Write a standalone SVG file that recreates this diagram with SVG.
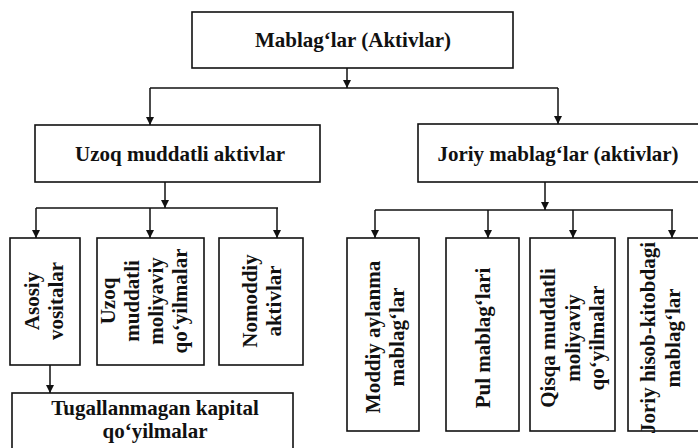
<svg xmlns="http://www.w3.org/2000/svg" width="698" height="448" viewBox="0 0 698 448">
<defs>
<style>
.box{fill:#fff;stroke:#111;stroke-width:1.6}
.t{font-family:"Liberation Serif","Times New Roman",serif;font-weight:bold;font-size:21px;fill:#111}
.c{stroke:#111;stroke-width:1.5;fill:none}
</style>
<marker id="ah" markerWidth="8" markerHeight="8" refX="8" refY="4" orient="auto" markerUnits="userSpaceOnUse"><path d="M0,0 L8,4 L0,8 z" fill="#111"/></marker>
</defs>
<rect width="698" height="448" fill="#fff"/>
<g id="connectors">
<path class="c" d="M347,68 V88" marker-end="url(#ah)"/>
<path class="c" d="M150,88 H558"/>
<path class="c" d="M150,88 V125" marker-end="url(#ah)"/>
<path class="c" d="M558,88 V124" marker-end="url(#ah)"/>
<path class="c" d="M165,182 V208" marker-end="url(#ah)"/>
<path class="c" d="M36,208 H278"/>
<path class="c" d="M36,208 V238" marker-end="url(#ah)"/>
<path class="c" d="M150,208 V238" marker-end="url(#ah)"/>
<path class="c" d="M277,208 V238" marker-end="url(#ah)"/>
<path class="c" d="M545,182 V210" marker-end="url(#ah)"/>
<path class="c" d="M375,210 H673"/>
<path class="c" d="M375,210 V238" marker-end="url(#ah)"/>
<path class="c" d="M488,210 V238" marker-end="url(#ah)"/>
<path class="c" d="M573,210 V238" marker-end="url(#ah)"/>
<path class="c" d="M672,210 V238" marker-end="url(#ah)"/>
<path class="c" d="M50,365 V393" marker-end="url(#ah)"/>
</g>
<g id="mablaglar">
<rect class="box" x="192" y="12" width="321" height="56"/>
<text class="t" x="353" y="47" text-anchor="middle">Mablag‘lar (Aktivlar)</text>
</g>
<g id="uzoq">
<rect class="box" x="35" y="125" width="285" height="57"/>
<text class="t" x="180" y="161" text-anchor="middle">Uzoq muddatli aktivlar</text>
</g>
<g id="joriy">
<rect class="box" x="418" y="124" width="284" height="58"/>
<text class="t" x="558" y="161" text-anchor="middle">Joriy mablag‘lar (aktivlar)</text>
</g>
<g id="asosiy">
<rect class="box" x="10" y="238" width="70" height="127"/>
<text class="t" transform="translate(0,301) rotate(-90)" text-anchor="middle"><tspan x="0" y="39">Asosiy</tspan><tspan x="0" y="63">vositalar</tspan></text>
</g>
<g id="uzoq-moliyaviy">
<rect class="box" x="97" y="238" width="107" height="127"/>
<text class="t" transform="translate(0,301) rotate(-90)" text-anchor="middle"><tspan x="0" y="115">Uzoq</tspan><tspan x="0" y="139">muddatli</tspan><tspan x="0" y="163">moliyaviy</tspan><tspan x="0" y="187">qo‘yilmalar</tspan></text>
</g>
<g id="nomoddiy">
<rect class="box" x="219" y="238" width="84" height="127"/>
<text class="t" transform="translate(0,301) rotate(-90)" text-anchor="middle"><tspan x="0" y="257">Nomoddiy</tspan><tspan x="0" y="281">aktivlar</tspan></text>
</g>
<g id="tugallanmagan">
<rect class="box" x="12" y="393" width="281" height="60"/>
<text class="t" text-anchor="middle"><tspan x="155" y="415">Tugallanmagan kapital</tspan><tspan x="155" y="438">qo‘yilmalar</tspan></text>
</g>
<g id="moddiy">
<rect class="box" x="347" y="238" width="72" height="193"/>
<text class="t" transform="translate(0,337) rotate(-90)" text-anchor="middle"><tspan x="0" y="380">Moddiy aylanma</tspan><tspan x="0" y="404">mablag‘lar</tspan></text>
</g>
<g id="pul">
<rect class="box" x="446" y="238" width="73" height="193"/>
<text class="t" transform="translate(0,338) rotate(-90)" text-anchor="middle"><tspan x="0" y="490">Pul mablag‘lari</tspan></text>
</g>
<g id="qisqa">
<rect class="box" x="530" y="238" width="85" height="193"/>
<text class="t" transform="translate(0,338) rotate(-90)" text-anchor="middle"><tspan x="0" y="555">Qisqa muddatli</tspan><tspan x="0" y="580">moliyaviy</tspan><tspan x="0" y="604">qo‘yilmalar</tspan></text>
</g>
<g id="joriy-hisob">
<rect class="box" x="628" y="238" width="74" height="193"/>
<text class="t" transform="translate(0,338) rotate(-90)" text-anchor="middle"><tspan x="0" y="655">Joriy hisob-kitobdagi</tspan><tspan x="0" y="680">mablag‘lar</tspan></text>
</g>
</svg>
